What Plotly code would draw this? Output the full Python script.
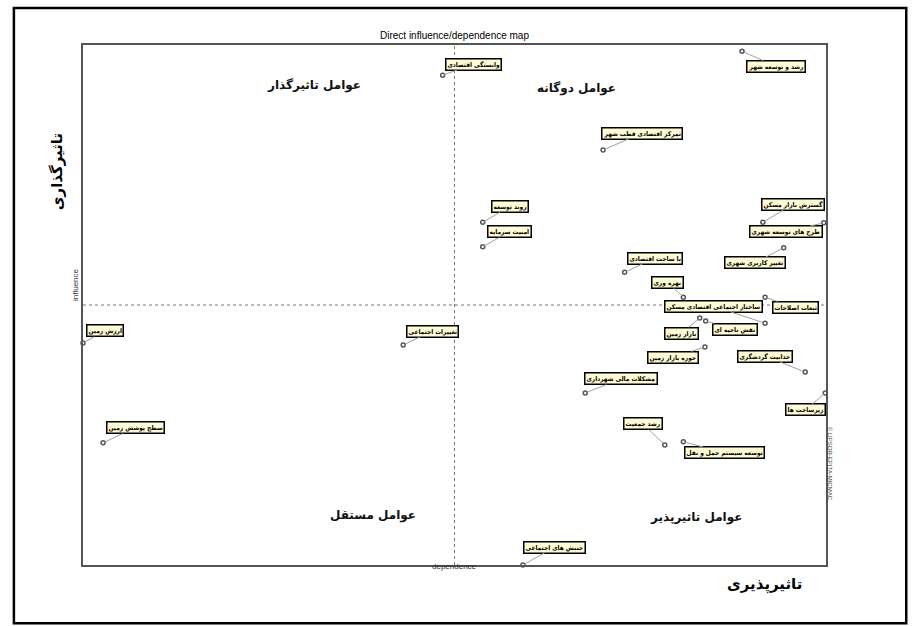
import plotly.graph_objects as go

# ---- data (dependence, influence) ----
labels = [
    "وابستگی اقتصادی", "رشد و توسعه شهر", "تمرکز اقتصادی قطب شهر", "روند توسعه",
    "امنیت سرمایه", "گسترش بازار مسکن", "طرح های توسعه شهری", "تغییر کاربری شهری",
    "با ساخت اقتصادی", "بهره وری", "ساختار اجتماعی اقتصادی مسکن", "تبعات اصلاحات",
    "بازار زمین", "نقش ناحیه ای", "حوزه بازار زمین", "مشکلات مالی شهرداری",
    "جذابیت گردشگری", "زیرساخت ها", "رشد جمعیت", "توسعه سیستم حمل و نقل",
    "ارزش زمین", "تغییرات اجتماعی", "سطح پوشش زمین", "جنبش های اجتماعی",
]
dependence = [48.4, 88.7, 70.0, 53.8, 53.8, 91.5, 99.7, 94.3, 72.9, 80.8, 91.8, 91.8,
              83.0, 83.8, 83.7, 67.6, 97.2, 99.9, 78.3, 80.8, 0.0, 43.1, 2.7, 59.2]
influence = [94.2, 98.8, 79.8, 65.9, 61.2, 65.9, 65.8, 61.0, 56.3, 51.5, 46.5, 51.5,
             47.5, 46.9, 41.9, 33.1, 37.1, 33.1, 23.1, 23.7, 42.7, 42.3, 23.5, 0.0]

# label offsets (pixels) for annotation boxes
offsets = [(31, -11), (34, 15), (39, -17), (27, -16), (27, -15), (30, -18), (-38, 9), (-29, 15),
           (30, -14), (-16, -15), (-52, -17), (30, 10), (-18, 15), (29, 8), (-32, 10), (36, -14),
           (-40, -16), (-20, 17), (-22, -21), (41, 11), (22, -12), (29, -14), (32, -15), (32, -18)]

mean_dep = 50
mean_inf = 50

fig = go.Figure()
fig.add_trace(go.Scatter(
    x=dependence, y=influence, mode="markers",
    marker=dict(size=4, color="white", line=dict(color="#555555", width=1.5)),
    cliponaxis=False, hoverinfo="text", text=labels, showlegend=False))

for lab, xv, yv, (ax, ay) in zip(labels, dependence, influence, offsets):
    fig.add_annotation(x=xv, y=yv, text="<b>" + lab + "</b>", showarrow=True,
                       arrowhead=0, arrowwidth=1, arrowcolor="#a0a0a0",
                       ax=ax, ay=ay, standoff=2,
                       font=dict(family="DejaVu Sans Condensed, DejaVu Sans", size=6.5, color="black"),
                       bgcolor="#FFFBD6", bordercolor="black", borderwidth=1.5, borderpad=1)

# mean lines
fig.add_shape(type="line", x0=mean_dep, x1=mean_dep, y0=0, y1=100,
              line=dict(color="#777777", width=1, dash="dot"))
fig.add_shape(type="line", x0=0, x1=100, y0=mean_inf, y1=mean_inf,
              line=dict(color="#777777", width=1, dash="dot"))

# outer frame
fig.add_shape(type="rect", xref="paper", yref="paper", x0=-0.093, x1=1.108, y0=-0.112, y1=1.071,
              line=dict(color="black", width=2.5), layer="below")

# quadrant labels
quad = [("عوامل تاثیرگذار", 0.245, 0.94), ("عوامل دوگانه", 0.72, 0.935),
        ("عوامل مستقل", 0.33, 0.077), ("عوامل تاثیرپذیر", 0.89, 0.073)]
for t, px, py in quad:
    fig.add_annotation(x=px, y=py, xref="paper", yref="paper", text="<b>" + t + "</b>",
                       showarrow=False, font=dict(family="DejaVu Sans", size=12, color="#111"))

fig.add_annotation(x=0.5, y=1.019, xref="paper", yref="paper", yanchor="middle",
                   text="Direct influence/dependence map", showarrow=False,
                   font=dict(family="Liberation Sans Narrow, Liberation Sans", size=10, color="black"))
fig.add_annotation(x=-0.011, y=0.54, xref="paper", yref="paper", xanchor="center", text="influence", textangle=-90,
                   showarrow=False, font=dict(family="Liberation Sans Narrow, Liberation Sans", size=8, color="#333"))
fig.add_annotation(x=0.5, y=-0.015, xref="paper", yref="paper", text="dependence",
                   showarrow=False, font=dict(family="Liberation Sans Narrow, Liberation Sans", size=8, color="#333"))
fig.add_annotation(x=-0.05, y=0.835, xref="paper", yref="paper", text="<b>تاثیرگذاری</b>", textangle=-90,
                   showarrow=False, font=dict(family="DejaVu Sans", size=15, color="black"))
fig.add_annotation(x=0.97, y=-0.06, xref="paper", yref="paper", text="<b>تاثیرپذیری</b>",
                   showarrow=False, font=dict(family="DejaVu Sans", size=15, color="black"))
fig.add_annotation(x=1.012, y=0.12, xref="paper", yref="paper", text="© LIPSOR-EPITA-MICMAC", textangle=90,
                   showarrow=False, font=dict(family="Liberation Sans Narrow, Liberation Sans", size=6, color="#444"))

axis_common = dict(range=[0, 100], showgrid=False, zeroline=False, showticklabels=False, ticks="",
                   showline=True, linecolor="#555555", linewidth=1.5, mirror=True)
fig.update_xaxes(**axis_common)
fig.update_yaxes(**axis_common)

fig.update_layout(width=920, height=626, margin=dict(l=83, r=94, t=45, b=61),
                  paper_bgcolor="white", plot_bgcolor="white", showlegend=False)

fig.write_html("out.html", config={"displayModeBar": False},
               post_script="document.body.style.margin='0';document.body.style.overflow='hidden';")
